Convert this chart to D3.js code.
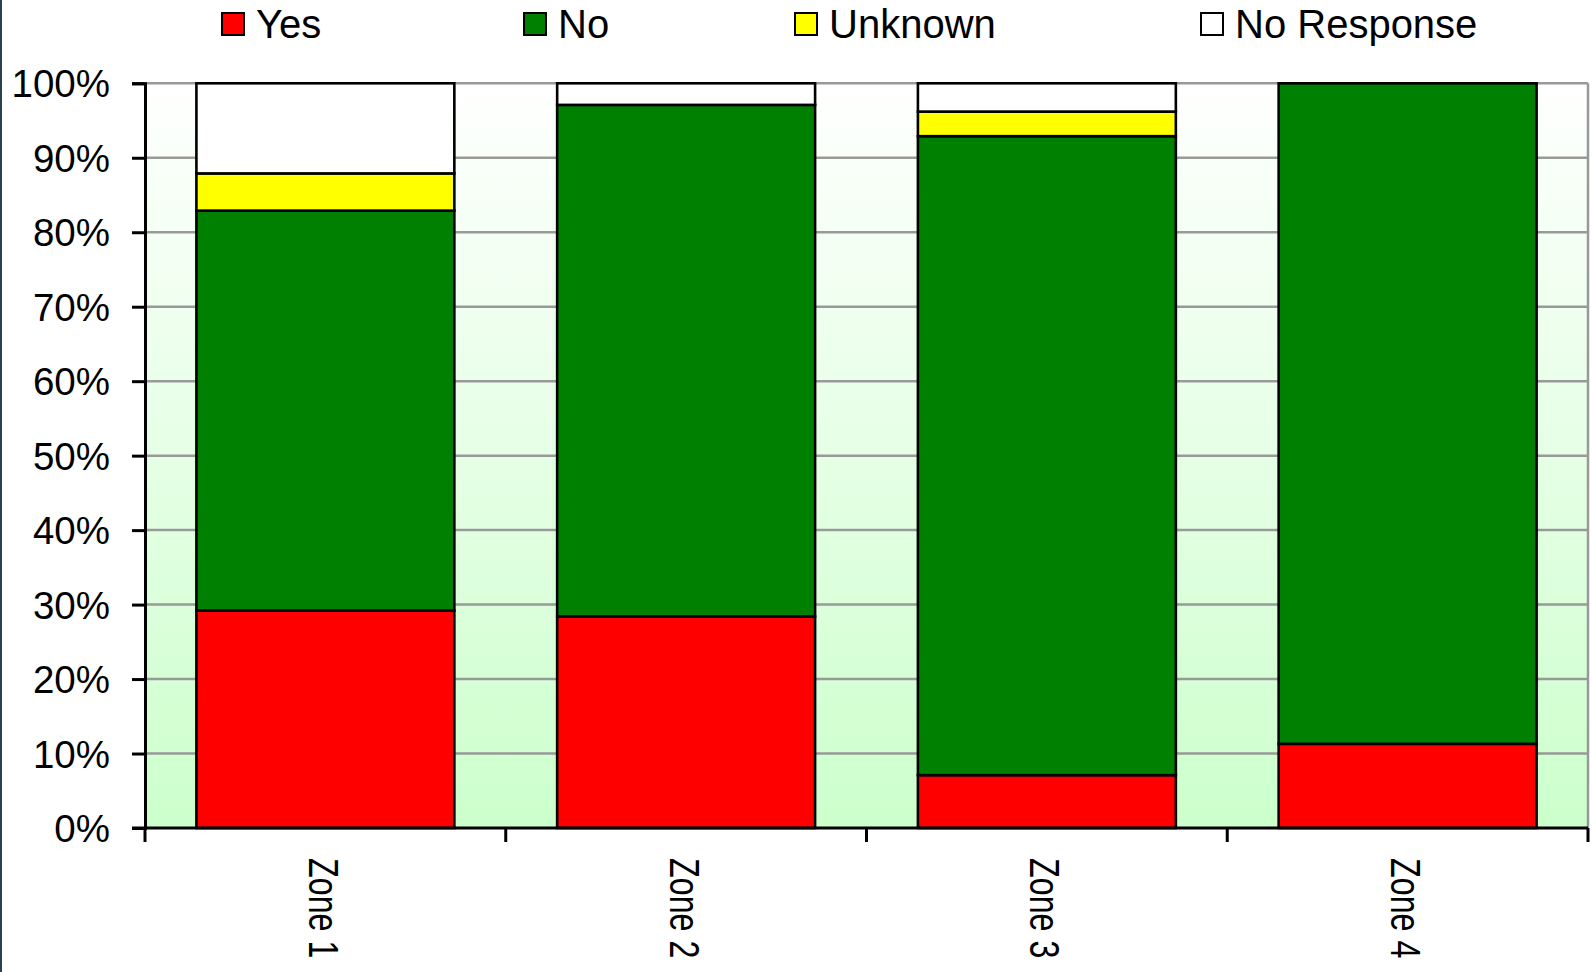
<!DOCTYPE html>
<html>
<head>
<meta charset="utf-8">
<script src="https://cdn.jsdelivr.net/npm/d3@7"></script>
<style>
  html, body { margin: 0; padding: 0; background: #ffffff; }
  svg { display: block; }
  text { font-family: "Liberation Sans", Arial, sans-serif; fill: #000; }
</style>
</head>
<body>
<script>
// Survey responses per zone, in percent of respondents
const zones = ["Zone 1", "Zone 2", "Zone 3", "Zone 4"];
const yes = [29.2, 28.4, 7.1, 11.3];
const no = [53.7, 68.7, 85.8, 88.7];
const unknown = [5.0, 0, 3.3, 0];
const noResponse = [12.1, 2.9, 3.8, 0];

const seriesNames = ["Yes", "No", "Unknown", "No Response"];
const seriesColors = ["#ff0000", "#008000", "#ffff00", "#ffffff"];
const yTickValues = [0, 10, 20, 30, 40, 50, 60, 70, 80, 90, 100];

const W = 1593, H = 972;
const plot = { left: 145, right: 1588, top: 83.3, bottom: 828 };

const rows = zones.map((z, i) => ({
  zone: z,
  "Yes": yes[i],
  "No": no[i],
  "Unknown": unknown[i],
  "No Response": noResponse[i]
}));

const svg = d3.select("body").append("svg")
  .attr("width", W).attr("height", H);

// Plot background: white fading to pale green
const defs = svg.append("defs");
const grad = defs.append("linearGradient")
  .attr("id", "plotBg").attr("x1", 0).attr("y1", 0).attr("x2", 0).attr("y2", 1);
grad.append("stop").attr("offset", "0%").attr("stop-color", "#ffffff");
grad.append("stop").attr("offset", "100%").attr("stop-color", "#ccffcc");

// Dark frame line down the left edge
svg.append("rect").attr("x", 0).attr("y", 0).attr("width", 2).attr("height", H)
  .attr("fill", "#2b4052");

const x = d3.scaleBand()
  .domain(zones)
  .range([plot.left, plot.right])
  .paddingInner(0.285)
  .paddingOuter(0.1425);

const y = d3.scaleLinear().domain([0, 100]).range([plot.bottom, plot.top]);

svg.append("rect")
  .attr("x", plot.left).attr("y", plot.top)
  .attr("width", plot.right - plot.left).attr("height", plot.bottom - plot.top)
  .attr("fill", "url(#plotBg)");

// Horizontal gridlines
svg.append("g").selectAll("line")
  .data(yTickValues.filter(v => v > 0))
  .join("line")
  .attr("x1", plot.left).attr("x2", plot.right)
  .attr("y1", d => y(d)).attr("y2", d => y(d))
  .attr("stroke", "#999999").attr("stroke-width", 2.5);

// Right border of the plot area
svg.append("line")
  .attr("x1", plot.right).attr("x2", plot.right)
  .attr("y1", plot.top).attr("y2", plot.bottom)
  .attr("stroke", "#999999").attr("stroke-width", 2.5);

// Stacked bars
const stack = d3.stack().keys(seriesNames);
const layers = stack(rows);

svg.append("g").selectAll("g")
  .data(layers)
  .join("g")
  .attr("fill", (d, i) => seriesColors[i])
  .selectAll("rect")
  .data(d => d.filter(s => s[1] - s[0] > 0))
  .join("rect")
  .attr("x", d => x(d.data.zone))
  .attr("width", x.bandwidth())
  .attr("y", d => y(d[1]))
  .attr("height", d => y(d[0]) - y(d[1]))
  .attr("stroke", "#000").attr("stroke-width", 2.6);

// Y axis
const yAxis = d3.axisLeft(y)
  .tickValues(yTickValues)
  .tickFormat(d => d + "%")
  .tickSize(13)
  .tickPadding(22);
const yG = svg.append("g").attr("transform", `translate(${plot.left},0)`).call(yAxis);
yG.select(".domain").attr("stroke", "#000").attr("stroke-width", 3);
yG.selectAll(".tick line").attr("stroke", "#000").attr("stroke-width", 3);
yG.selectAll(".tick text")
  .attr("font-size", 38.5)
  .attr("font-family", "Liberation Sans, Arial, sans-serif")
  .attr("fill", "#000")
  .attr("dy", "0.35em");

// X axis: ticks sit on category boundaries
const boundaries = zones.map(z => x(z) - x.step() * x.paddingInner() / 2)
  .concat([plot.right]);
const xG = svg.append("g");
xG.append("line")
  .attr("x1", plot.left - 13).attr("x2", plot.right)
  .attr("y1", plot.bottom).attr("y2", plot.bottom)
  .attr("stroke", "#000").attr("stroke-width", 3);
xG.selectAll("line.tick")
  .data(boundaries)
  .join("line")
  .attr("class", "tick")
  .attr("x1", d => d).attr("x2", d => d)
  .attr("y1", plot.bottom).attr("y2", plot.bottom + 14)
  .attr("stroke", "#000").attr("stroke-width", 3);

// Category labels, rotated to read downward
xG.selectAll("text")
  .data(zones)
  .join("text")
  .attr("transform", d => `translate(${x(d) + x.bandwidth() / 2 - 1},858) rotate(90) scale(0.75,1)`)
  .attr("dy", "0.36em")
  .attr("font-size", 43)
  .attr("text-anchor", "start")
  .text(d => d);

// Legend across the top
const legendX = [221, 523, 794, 1200];
const legend = svg.append("g").selectAll("g")
  .data(seriesNames)
  .join("g")
  .attr("transform", (d, i) => `translate(${legendX[i]},0)`);
legend.append("rect")
  .attr("x", 1).attr("y", 13).attr("width", 22).attr("height", 22)
  .attr("fill", (d, i) => seriesColors[i])
  .attr("stroke", "#000").attr("stroke-width", 2);
legend.append("text")
  .attr("x", 35).attr("y", 38)
  .attr("font-size", 40)
  .text(d => d);
</script>
</body>
</html>
